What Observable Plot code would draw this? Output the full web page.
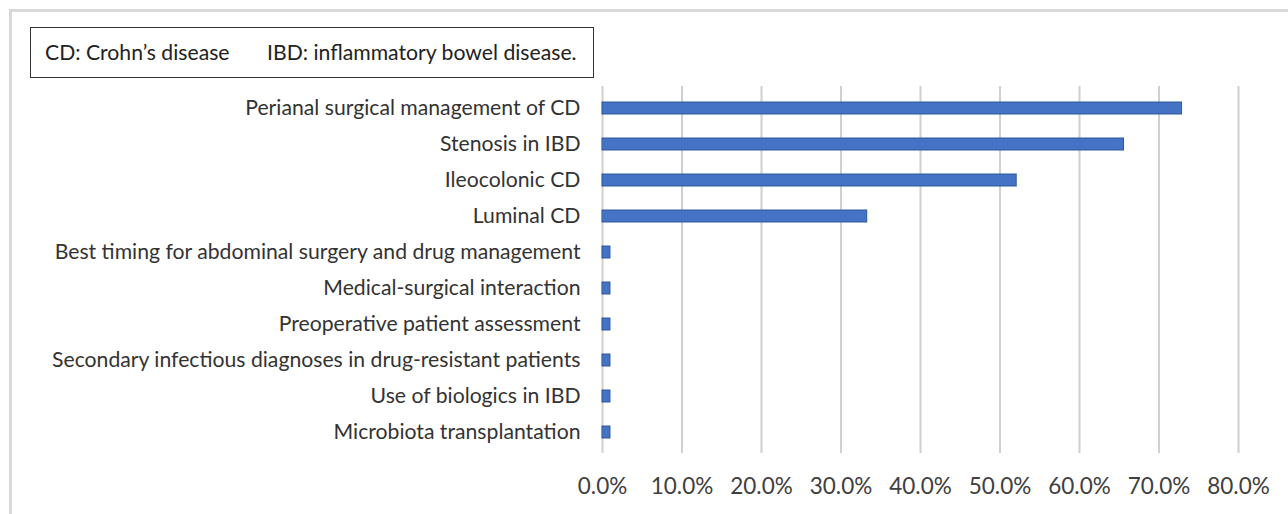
<!DOCTYPE html>
<html><head><meta charset="utf-8">
<script src="https://cdn.jsdelivr.net/npm/d3@7"></script>
<script src="https://cdn.jsdelivr.net/npm/@observablehq/plot@0.6"></script>
<style>
html,body{margin:0;padding:0;background:#fff;}
#wrap{position:relative;width:1288px;height:514px;overflow:hidden;font-family:Lato,sans-serif;}
#frame{position:absolute;left:9px;top:9px;width:1400px;height:600px;border-left:3px solid #d9d9d9;border-top:3px solid #d9d9d9;}
#note{position:absolute;left:30px;top:27px;width:564px;height:51px;border:1px solid #333;background:#fff;font-size:21.2px;color:#222;box-sizing:border-box;}
#note span{position:absolute;top:11px;white-space:nowrap;}
#chart{position:absolute;left:0;top:0;}
</style></head>
<body><div id="wrap"><div id="frame"></div><div id="chart"></div>
<div id="note"><span id="n1" style="left:14px"></span><span id="n2" style="left:236px"></span></div></div>
<script>
const categories = [
  "Perianal surgical management of CD",
  "Stenosis in IBD",
  "Ileocolonic CD",
  "Luminal CD",
  "Best timing for abdominal surgery and drug management",
  "Medical-surgical interaction",
  "Preoperative patient assessment",
  "Secondary infectious diagnoses in drug-resistant patients",
  "Use of biologics in IBD",
  "Microbiota transplantation"
];
const values = [72.9, 65.6, 52.1, 33.3, 1.0, 1.0, 1.0, 1.0, 1.0, 1.0];
const xTicks = [0, 10, 20, 30, 40, 50, 60, 70, 80];
const noteTexts = ["CD: Crohn’s disease", "IBD: inflammatory bowel disease."];

document.getElementById("n1").textContent = noteTexts[0];
document.getElementById("n2").textContent = noteTexts[1];

const data = categories.map((c, i) => ({category: c, value: values[i]}));

const chart = Plot.plot({
  width: 1288,
  height: 514,
  marginLeft: 602,
  marginRight: 50,
  marginTop: 86,
  marginBottom: 61,
  style: {fontFamily: "Lato, sans-serif", background: "transparent", overflow: "visible"},
  x: {domain: [0, 80], ticks: xTicks, label: null},
  y: {domain: categories, paddingInner: 0.67, paddingOuter: 0.335, label: null},
  marks: [
    Plot.gridX(xTicks, {stroke: "#d0d0d0", strokeOpacity: 1, strokeWidth: 2}),
    Plot.barX(data, {x: "value", y: "category", fill: "#4472c4", stroke: "#2f5a9a", strokeWidth: 1}),
    Plot.axisX(xTicks, {tickSize: 0, tickPadding: 25, fontSize: 22.5, fill: "#404040", tickFormat: d => d.toFixed(1) + "%", anchor: "bottom", label: null}),
    Plot.axisY({tickSize: 0, tickPadding: 22, fontSize: 21.2, fill: "#333", label: null})
  ]
});
document.getElementById("chart").appendChild(chart);
</script>
</body></html>
